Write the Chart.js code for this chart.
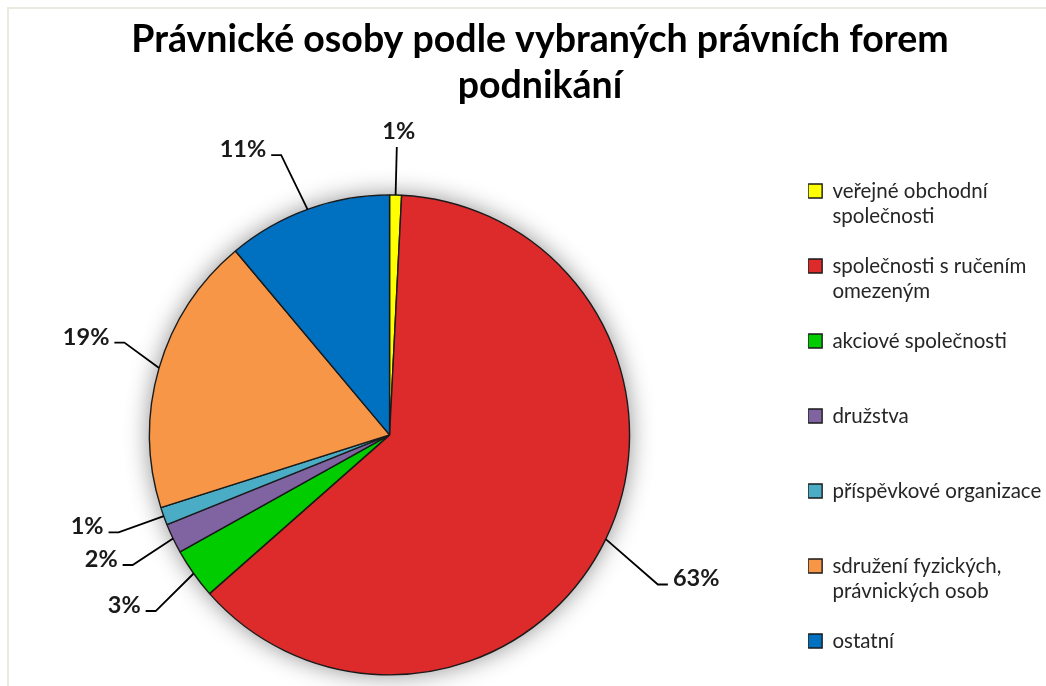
<!DOCTYPE html>
<html lang="cs">
<head>
<meta charset="utf-8">
<title>Právnické osoby podle vybraných právních forem podnikání</title>
<script src="https://cdn.jsdelivr.net/npm/chart.js@4/dist/chart.umd.min.js"></script>
<style>
  html, body { margin: 0; padding: 0; background: #fff; overflow: hidden; }
  #pieChart { display: block; margin-left: -29px; }
</style>
</head>
<body>
<canvas id="pieChart" width="1138" height="690"></canvas>
<script>
// data (shares in %)
const titleLines = ["Právnické osoby podle vybraných právních forem", "podnikání"];
const categories = [
  ["veřejné obchodní", "společnosti", ""],
  ["společnosti s ručením", "omezeným", ""],
  ["akciové společnosti", "", ""],
  ["družstva", "", ""],
  ["příspěvkové organizace           ", "", ""],
  ["sdružení fyzických,", "právnických osob", ""],
  "ostatní",
];
const shares = [0.8, 62.7, 3.4, 2.0, 1.2, 18.8, 11.1];
const sliceColors = ["#FFFF00", "#DD2A2A", "#00CC00", "#8064A2", "#4BACC6", "#F79646", "#0070C0"];

// leader line tweaks per slice (degrees, radius factor)
const labelShift = [0, 3.4, -1.7, -1.3, 0, 3, -1.2];
const labelDist = [1.2, 1.28, 1.22, 1.2, 1.2, 1.17, 1.25];

const FONT = "Lato, 'Open Sans', sans-serif";
const SHIFT = 29; // canvas is moved left by this much (see css)

// light frame like the office chart border
const framePlugin = {
  id: "frame",
  beforeDraw(chart) {
    const ctx = chart.ctx;
    ctx.save();
    ctx.strokeStyle = "#ECE9DE";
    ctx.lineWidth = 2;
    ctx.beginPath();
    ctx.moveTo(SHIFT + 8, chart.height);
    ctx.lineTo(SHIFT + 8, 8);
    ctx.lineTo(chart.width, 8);
    ctx.stroke();
    ctx.restore();
  },
};

// soft shadow behind the pie
const shadowPlugin = {
  id: "pieShadow",
  beforeDatasetsDraw(chart) {
    const arc = chart.getDatasetMeta(0).data[0];
    if (!arc) return;
    const p = arc.getProps(["x", "y", "outerRadius"], true);
    const ctx = chart.ctx;
    ctx.save();
    ctx.shadowColor = "rgba(0,0,0,0.45)";
    ctx.shadowBlur = 24;
    ctx.fillStyle = "#ffffff";
    ctx.beginPath();
    ctx.arc(p.x, p.y, p.outerRadius, 0, Math.PI * 2);
    ctx.fill();
    ctx.restore();
  },
};

// percentage labels outside with leader lines
const leaderPlugin = {
  id: "leaderLabels",
  afterDatasetsDraw(chart) {
    const ctx = chart.ctx;
    const meta = chart.getDatasetMeta(0);
    const values = chart.data.datasets[0].data;
    const total = values.reduce((s, v) => s + v, 0);
    ctx.save();
    ctx.strokeStyle = "#000";
    ctx.lineWidth = 1.8;
    ctx.fillStyle = "#1a1a1a";
    ctx.font = "bold 23.5px " + FONT;
    meta.data.forEach((arc, i) => {
      const p = arc.getProps(["x", "y", "startAngle", "endAngle", "outerRadius"], true);
      const mid = (p.startAngle + p.endAngle) / 2;
      const a = mid + (labelShift[i] * Math.PI) / 180;
      const ex = p.x + Math.cos(mid) * p.outerRadius;
      const ey = p.y + Math.sin(mid) * p.outerRadius;
      const bx = p.x + Math.cos(a) * p.outerRadius * labelDist[i];
      const by = p.y + Math.sin(a) * p.outerRadius * labelDist[i];
      const text = Math.round((values[i] / total) * 100) + "%";
      ctx.beginPath();
      ctx.moveTo(ex, ey);
      if (Math.abs(Math.cos(a)) < 0.2) {
        ctx.lineTo(bx, by);
        ctx.stroke();
        ctx.textAlign = "center";
        ctx.textBaseline = "alphabetic";
        ctx.fillText(text, bx + 2, by - 8);
      } else {
        const dir = Math.cos(a) > 0 ? 1 : -1;
        const tx = bx + dir * 10;
        ctx.lineTo(bx, by);
        ctx.lineTo(tx, by);
        ctx.stroke();
        ctx.textAlign = dir > 0 ? "left" : "right";
        ctx.textBaseline = "alphabetic";
        ctx.fillText(text, tx + dir * 5, by + 2);
      }
    });
    ctx.restore();
  },
};

const ctx = document.getElementById("pieChart").getContext("2d");
const pieChart = new Chart(ctx, {
  type: "pie",
  data: {
    labels: categories,
    datasets: [
      {
        label: "Právnické osoby",
        data: shares,
        backgroundColor: sliceColors,
        borderColor: "#1a1a1a",
        borderWidth: 1.4,
        radius: 240,
      },
    ],
  },
  options: {
    responsive: false,
    animation: false,
    devicePixelRatio: 1,
    layout: {
      padding: { left: 0, right: 0, top: 0, bottom: 1 },
    },
    plugins: {
      title: {
        display: true,
        text: titleLines,
        color: "#000",
        font: { family: FONT, size: 37.5, weight: "bold", lineHeight: 1.227 },
        padding: { top: 16.75, bottom: 72 },
      },
      legend: {
        position: "right",
        align: "start",
        fullSize: false,
        labels: {
          color: "#262626",
          font: { family: FONT, size: 20.5, lineHeight: 25 / 20.5 },
          boxWidth: 14,
          boxHeight: 14,
          padding: 0,
        },
      },
      tooltip: { enabled: false },
    },
  },
  plugins: [framePlugin, shadowPlugin, leaderPlugin],
});
</script>
</body>
</html>
